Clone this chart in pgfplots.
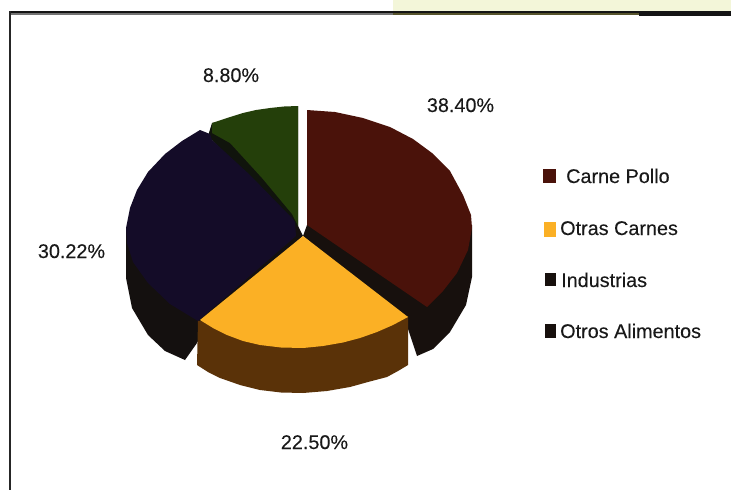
\documentclass[border=0pt]{standalone}
\usepackage{pgfplots}
\pgfplotsset{compat=1.18}
\usepackage{fontspec}
\setmainfont[FakeBold=0.12]{Liberation Sans}
\definecolor{pollo}{HTML}{4A120A}
\definecolor{pollolado}{HTML}{17100D}
\definecolor{carnes}{HTML}{FBB025}
\definecolor{carneslado}{HTML}{5A3208}
\definecolor{industrias}{HTML}{140C28}
\definecolor{industriaslado}{HTML}{14100F}
\definecolor{alimentos}{HTML}{243F0A}
\definecolor{alimentoslado}{HTML}{10140C}
\definecolor{franja}{HTML}{F3F6D9}
\begin{document}
\begin{tikzpicture}[every node/.style={font=\fontsize{19.8}{22}\selectfont,text=black!90,inner sep=0pt}]
\begin{axis}[
  at={(0,0)}, anchor=south west,
  width=731pt, height=490pt, scale only axis,
  xmin=0, xmax=731, ymin=0, ymax=490, y dir=reverse,
  hide axis,
]
% page background, which also fixes the extent of the picture
\addplot[fill=white, draw=none] coordinates {(0,0) (731,0) (731,490) (0,490)} -- cycle;

% strip and frame
\addplot[fill=franja, draw=none] coordinates {(393,0) (731,0) (731,10.5) (393,10.5)} -- cycle;
\addplot[fill=black!55, draw=none] coordinates {(10,13) (393,13) (393,15) (10,15)} -- cycle;
\addplot[fill=black!50!olive, draw=none] coordinates {(393,13) (639,13) (639,15) (393,15)} -- cycle;
\addplot[fill=black!92, draw=none] coordinates {(8.5,10.5) (731,10.5) (731,13) (8.5,13)} -- cycle;
\addplot[fill=black!92, draw=none] coordinates {(639,13) (731,13) (731,15.5) (639,15.5)} -- cycle;
\addplot[fill=black!85, draw=none] coordinates {(8.5,10.5) (10.5,10.5) (10.5,490) (8.5,490)} -- cycle;

% Otros Alimentos: cut face and top
\addplot[fill=alimentoslado, draw=none] coordinates {
  (208,136) (212,123) (298,106) (298,232) (290,226) (250,180)} -- cycle;
\addplot[fill=alimentos, draw=none] coordinates {
  (212,123) (227,118) (243,113) (256,110) (270,108) (284,106.5) (298,106)
  (298,226) (292,214) (262,178) (230,143) (212,133)} -- cycle;

% Industrias: side wall and top
\addplot[fill=industriaslado, draw=none] coordinates {
  (126,228) (126,278) (132,308) (148,335) (165,351) (185,360) (197,343)
  (210,320) (303,236) (298,226)} -- cycle;
\addplot[fill=industrias, draw=none] coordinates {
  (200,130) (182,141) (165,154) (148,172) (137,190) (130,208) (126,228)
  (127,243) (133,262) (148,283) (170,304) (198,321)
  (296,236) (295,222) (292,218) (250,175) (212,140) (210,134)} -- cycle;

% Carne Pollo: side wall, cut face and top
\addplot[fill=pollolado, draw=none] coordinates {
  (472,225) (472,277) (466,305) (450,332) (433,349) (417,356) (405,320)
  (303,236) (307,225)} -- cycle;
\addplot[fill=pollo, draw=none] coordinates {
  (307,110) (335,112) (363,118) (390,127) (413,139) (432,153) (450,171)
  (463,195) (471,215) (472,228) (468,250) (457,273) (443,291) (427,307)
  (307,225)} -- cycle;

% Otras Carnes: side wall and top
\addplot[fill=carneslado, draw=none] coordinates {
  (198,321) (197,365) (208,372) (220,378) (240,385) (260,390) (281,392.5)
  (303,393) (327,391) (350,387) (368,382) (387,377) (398,371) (408,365)
  (408,316)} -- cycle;
\addplot[fill=carnes, draw=none] coordinates {
  (303,236) (408,317) (393,325) (377,332) (360,338) (343,342.5) (323,346)
  (303,348) (281,347.5) (260,345) (243,341) (227,335) (213,328) (200,320)} -- cycle;

% legend keys
\addplot[fill=pollo, draw=none] coordinates {(543,169) (556,169) (556,183) (543,183)} -- cycle;
\addplot[fill=carnes, draw=none] coordinates {(544,222) (556,222) (556,237) (544,237)} -- cycle;
\addplot[fill=pollolado, draw=none] coordinates {(545,273) (556,273) (556,286) (545,286)} -- cycle;
\addplot[fill=pollolado, draw=none] coordinates {(545,324) (556,324) (556,338) (545,338)} -- cycle;

% legend text
\node[anchor=base west] at (axis cs:566,183) {Carne Pollo};
\node[anchor=base west] at (axis cs:560,235) {Otras Carnes};
\node[anchor=base west] at (axis cs:561,287) {Industrias};
\node[anchor=base west] at (axis cs:560,338) {Otros Alimentos};

% slice percentages
\node[anchor=base] at (axis cs:231,82) {8.80\%};
\node[anchor=base] at (axis cs:460.5,112) {38.40\%};
\node[anchor=base] at (axis cs:71.5,258) {30.22\%};
\node[anchor=base] at (axis cs:314.5,449) {22.50\%};
\end{axis}
\end{tikzpicture}
\end{document}
